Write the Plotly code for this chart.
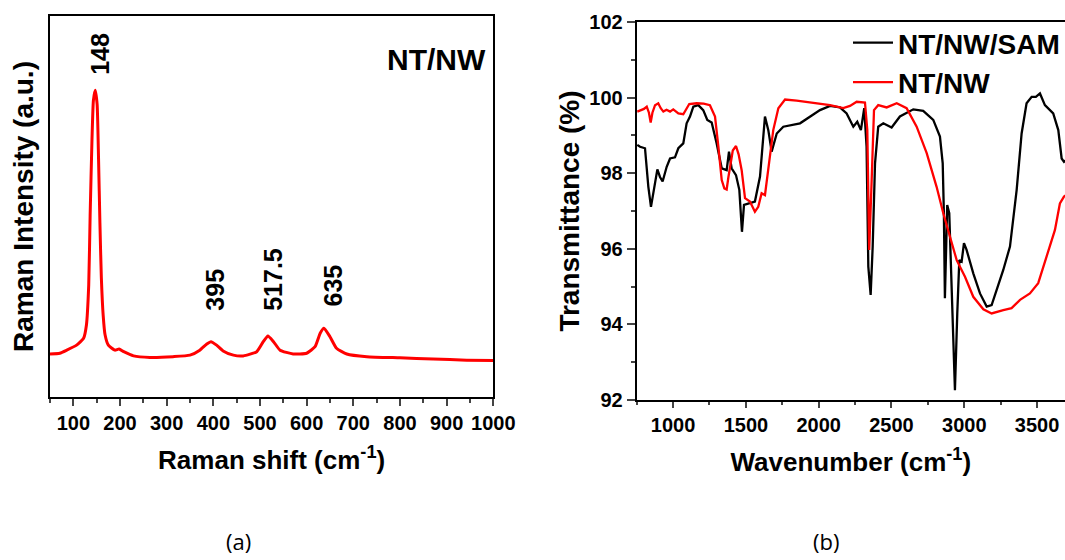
import numpy as np
import plotly.graph_objects as go

# ---------------- data: Raman spectrum (panel a) ----------------
raman_shift = [50, 71, 86, 107, 122, 128, 133, 136, 140, 143, 147, 151, 154, 157, 160, 164,
               168, 175, 189, 198, 208, 229, 264, 314, 350, 371, 386, 395, 407, 421, 443,
               464, 493, 507, 517, 529, 543, 571, 600, 618, 629, 637, 650, 664, 686, 729,
               800, 871, 943, 1000]
raman_intensity = [12.0, 12.2, 13.0, 14.3, 16.1, 19.5, 30.0, 48.0, 68.0, 78.0, 80.7, 77.0, 63.0,
                   46.0, 32.0, 22.0, 17.0, 14.3, 13.0, 13.3, 12.6, 11.5, 11.1, 11.3, 11.7, 13.0,
                   14.6, 15.2, 14.3, 12.8, 11.7, 11.5, 12.6, 15.2, 16.7, 15.2, 13.0, 12.0, 12.2,
                   13.9, 17.4, 18.7, 16.5, 13.5, 12.0, 11.3, 11.0, 10.7, 10.4, 10.3]
peak_positions = [148, 395, 517.5, 635]
peak_labels = ["148", "395", "517.5", "635"]

# ---------------- data: FTIR spectra (panel b) ----------------
wn_sam = [754, 773, 807, 830, 848, 869, 892, 910, 928, 956, 979, 1013, 1036, 1070, 1093, 1116,
          1139, 1173, 1207, 1235, 1265, 1299, 1334, 1368, 1384, 1402, 1432, 1455, 1466, 1473,
          1487, 1528, 1562, 1597, 1631, 1654, 1677, 1712, 1757, 1872, 1940, 2009, 2078, 2146,
          2192, 2238, 2265, 2290, 2313, 2329, 2341, 2357, 2371, 2387, 2409, 2444, 2501, 2558,
          2650, 2718, 2787, 2833, 2852, 2860, 2867, 2874, 2883, 2897, 2913, 2936, 2952, 2966,
          2982, 2998, 3016, 3062, 3108, 3154, 3188, 3223, 3268, 3314, 3360, 3394, 3428, 3463,
          3492, 3520, 3554, 3611, 3646, 3669, 3685, 3700]
t_sam = [98.75, 98.70, 98.66, 97.64, 97.11, 97.64, 98.10, 97.90, 97.78, 98.17, 98.39, 98.42,
         98.66, 98.79, 99.32, 99.50, 99.76, 99.80, 99.67, 99.41, 99.34, 98.79, 98.13, 98.08,
         98.57, 98.13, 97.95, 97.56, 96.90, 96.45, 97.16, 97.20, 97.25, 97.91, 99.50, 99.14,
         98.57, 99.05, 99.23, 99.32, 99.50, 99.67, 99.78, 99.74, 99.58, 99.23, 99.36, 99.14,
         99.72, 98.70, 95.53, 94.78, 96.06, 98.26, 99.23, 99.32, 99.21, 99.50, 99.69, 99.65,
         99.41, 98.97, 98.26, 96.94, 94.69, 96.06, 97.16, 96.94, 95.17, 92.26, 94.29, 95.70,
         95.66, 96.15, 95.97, 95.35, 94.82, 94.47, 94.51, 94.91, 95.44, 96.06, 97.56, 99.05,
         99.85, 100.02, 100.02, 100.11, 99.80, 99.58, 99.14, 98.39, 98.30, 98.35]

wn_nw = [754, 800, 819, 834, 846, 858, 876, 898, 915, 933, 955, 979, 1001, 1036, 1070, 1090,
         1111, 1162, 1210, 1253, 1288, 1311, 1334, 1352, 1368, 1380, 1391, 1410, 1432, 1450,
         1471, 1494, 1528, 1562, 1585, 1608, 1631, 1654, 1688, 1723, 1769, 1849, 1963, 2078,
         2169, 2215, 2261, 2318, 2334, 2347, 2364, 2380, 2409, 2467, 2536, 2604, 2673, 2742,
         2810, 2856, 2902, 2948, 3005, 3062, 3131, 3188, 3268, 3325, 3383, 3451, 3508, 3566,
         3623, 3657, 3685, 3700]
t_nw = [99.63, 99.70, 99.76, 99.60, 99.34, 99.60, 99.80, 99.85, 99.72, 99.63, 99.68, 99.63,
        99.69, 99.58, 99.56, 99.70, 99.83, 99.85, 99.84, 99.80, 99.50, 98.70, 97.82, 97.60,
        97.57, 97.90, 98.17, 98.60, 98.72, 98.50, 98.08, 97.34, 97.25, 96.98, 97.11, 97.47,
        97.42, 98.17, 99.14, 99.72, 99.95, 99.92, 99.87, 99.80, 99.72, 99.78, 99.89, 99.87,
        99.14, 95.97, 97.82, 99.67, 99.80, 99.74, 99.85, 99.72, 99.23, 98.53, 97.64, 96.94,
        96.32, 95.70, 95.26, 94.73, 94.40, 94.29, 94.38, 94.43, 94.65, 94.82, 95.09, 95.79,
        96.50, 97.20, 97.38, 97.42]

FONT = "Liberation Sans, Arial, sans-serif"
W, H = 1065, 560
ml, mt, mb = 50, 16, 160
pw, ph = W - ml, H - mt - mb


def px_x(px):
    return (px - ml) / pw


def px_y(py):
    return (H - mb - py) / ph


fig = go.Figure()
fig.add_trace(go.Scatter(x=raman_shift, y=raman_intensity, mode="lines",
                         line=dict(color="#ff0000", width=3, shape="spline", smoothing=0.5),
                         xaxis="x", yaxis="y", showlegend=False, hoverinfo="x+y"))
fig.add_trace(go.Scatter(x=wn_sam, y=t_sam, mode="lines", name="NT/NW/SAM",
                         line=dict(color="#000000", width=2.3),
                         xaxis="x2", yaxis="y2"))
fig.add_trace(go.Scatter(x=wn_nw, y=t_nw, mode="lines", name="NT/NW",
                         line=dict(color="#ff0000", width=2.3),
                         xaxis="x2", yaxis="y2"))

# peak labels (anchored on the curve, shifted in pixels)
xshifts = [4, 4, 5, 10]
yshifts = [13, 29, 23, 21]
annotations = []
for p, lab, xs, ys in zip(peak_positions, peak_labels, xshifts, yshifts):
    yv = float(np.interp(p, raman_shift, raman_intensity))
    if lab == "148":
        yv = max(raman_intensity)
    annotations.append(dict(x=p, y=yv, xref="x", yref="y", text=lab, showarrow=False,
                            textangle=-90, xanchor="center", yanchor="bottom",
                            xshift=xs, yshift=ys,
                            font=dict(family=FONT, size=25, color="black", weight="bold")))

annotations.append(dict(x=px_x(436), y=px_y(59.5), xref="paper", yref="paper", text="NT/NW",
                        showarrow=False, xanchor="center", yanchor="middle",
                        font=dict(family=FONT, size=30, color="black", weight="bold")))
# panel captions
annotations.append(dict(x=px_x(238), y=px_y(541), xref="paper", yref="paper", text="(a)",
                        showarrow=False, xanchor="center", yanchor="middle",
                        font=dict(family="Open Sans, sans-serif", size=22, color="black")))
annotations.append(dict(x=px_x(826), y=px_y(541), xref="paper", yref="paper", text="(b)",
                        showarrow=False, xanchor="center", yanchor="middle",
                        font=dict(family="Open Sans, sans-serif", size=22, color="black")))

tickfont = dict(family=FONT, size=20, color="black", weight="bold")
titlefont_x = dict(family=FONT, size=26, color="black", weight="bold")
titlefont_y = dict(family=FONT, size=28, color="black", weight="bold")

fig.update_layout(
    width=W, height=H,
    margin=dict(l=ml, r=0, t=mt, b=mb, autoexpand=False),
    paper_bgcolor="white", plot_bgcolor="white",
    font=dict(family=FONT, color="black"),
    xaxis=dict(domain=[0, px_x(493.3)], range=[50, 1000], anchor="y",
               tickmode="linear", tick0=100, dtick=100, ticks="outside", ticklen=7, tickwidth=2,
               minor=dict(dtick=50, tick0=50, ticks="outside", ticklen=4, tickwidth=2, showgrid=False),
               showline=True, linewidth=2, linecolor="black", mirror=True,
               showgrid=False, zeroline=False, tickfont=tickfont, automargin=False,
               title=dict(text="Raman shift (cm<sup>-1</sup>)", font=titlefont_x, standoff=18)),
    yaxis=dict(domain=[px_y(397), 1], range=[0.8, 100], anchor="x",
               showticklabels=False, ticks="",
               showline=True, linewidth=2, linecolor="black", mirror=True,
               showgrid=False, zeroline=False, automargin=False,
               title=dict(text="Raman Intensity (a.u.)", font=titlefont_y, standoff=6)),
    xaxis2=dict(domain=[px_x(636.7), 1], range=[750, 3692], anchor="y2",
                tickmode="linear", tick0=1000, dtick=500, ticks="outside", ticklen=6, tickwidth=2,
                minor=dict(dtick=250, tick0=750, ticks="outside", ticklen=3, tickwidth=2, showgrid=False),
                showline=True, linewidth=2, linecolor="black", mirror=True,
                showgrid=False, zeroline=False, tickfont=tickfont, automargin=False,
                title=dict(text="Wavenumber (cm<sup>-1</sup>)", font=titlefont_x, standoff=18)),
    yaxis2=dict(domain=[0, px_y(22)], range=[92, 102], anchor="x2",
                tickmode="linear", tick0=92, dtick=2, ticks="outside", ticklen=8, tickwidth=2,
                minor=dict(dtick=1, tick0=92, ticks="outside", ticklen=4, tickwidth=2, showgrid=False),
                showline=True, linewidth=2, linecolor="black", mirror=False,
                showgrid=False, zeroline=False, tickfont=tickfont, automargin=False,
                title=dict(text="Transmittance (%)", font=titlefont_y, standoff=2)),
    showlegend=True,
    legend=dict(x=px_x(848), y=px_y(18), xanchor="left", yanchor="top",
                bgcolor="rgba(0,0,0,0)", borderwidth=0,
                font=dict(family=FONT, size=28, color="black", weight="bold"),
                itemwidth=40, tracegroupgap=0),
    annotations=annotations,
)

fig.write_html("out.html")
